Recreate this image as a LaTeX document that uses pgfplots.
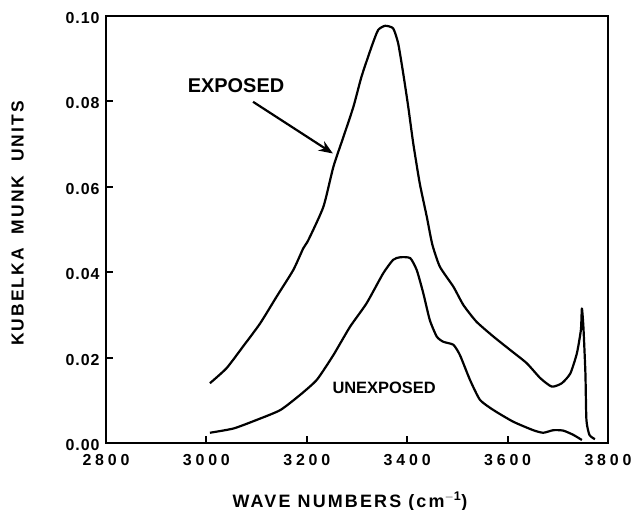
\documentclass[border=0pt]{standalone}
\usepackage{fontspec}
\setmainfont{Liberation Sans}
\newfontfamily\tickxfont{Liberation Sans}[LetterSpace=24]
\newfontfamily\tickyfont{Liberation Sans}[LetterSpace=6]
\newfontfamily\labfont{Liberation Sans}[LetterSpace=12]
\usepackage{pgfplots}
\pgfplotsset{compat=1.18}
\usetikzlibrary{arrows.meta}
\begin{document}
\begin{tikzpicture}
\useasboundingbox (0,0) rectangle (633bp,510bp);
\begin{axis}[
  at={(106bp,67bp)}, anchor=south west,
  scale only axis, width=502bp, height=427bp,
  xmin=2800, xmax=3800, ymin=0, ymax=0.10,
  xtick={2800,3000,...,3800},
  ytick={0,0.02,...,0.10},
  xtick pos=left, ytick pos=left,
  tick align=inside, major tick length=7bp,
  tick style={line width=2bp, black},
  axis line style={line width=2.2bp},
  minor tick num=0,
  clip=false,
  /pgf/number format/.cd, assume math mode=true, 1000 sep={},
  /pgfplots/.cd,
  scaled y ticks=false,
  yticklabel={\pgfmathprintnumber[fixed,fixed zerofill,precision=2]{\tick}},
  xticklabel style={font=\fontsize{16}{18}\selectfont\tickxfont\bfseries, yshift=-8bp},
  yticklabel style={font=\fontsize{16}{18}\selectfont\tickyfont\bfseries, xshift=-3bp, yshift=-2bp},
]
\addplot[black, line width=2.2bp, line join=round, smooth, tension=0.35] coordinates {
(3007,0.0140) (3040,0.0175) (3073,0.0226) (3107,0.0280) (3140,0.0343)
(3173,0.0405) (3193,0.0456) (3203,0.0475) (3233,0.0553) (3253,0.0647)
(3273,0.0717) (3293,0.0788) (3309,0.0858) (3329,0.0928) (3342,0.0967)
(3356,0.0977) (3372,0.0971) (3382,0.0936) (3392,0.0866) (3402,0.0788)
(3412,0.0702) (3425,0.0608) (3439,0.0530) (3450,0.0465) (3465,0.0413)
(3492,0.0366) (3512,0.0323) (3538,0.0284) (3572,0.0249) (3605,0.0218)
(3638,0.0187) (3665,0.0152) (3688,0.0132) (3708,0.0140) (3725,0.0163)
(3738,0.0210) (3746,0.0265) (3748,0.0315) (3751,0.0272) (3755,0.0163)
(3757,0.0054) (3763,0.0019) (3774,0.0009)
};
\addplot[black, line width=2.2bp, line join=round, smooth, tension=0.35] coordinates {
(3007,0.0024) (3054,0.0034) (3100,0.0054) (3147,0.0077) (3186,0.0112)
(3220,0.0148) (3253,0.0206) (3286,0.0272) (3319,0.0327) (3352,0.0397)
(3372,0.0429) (3386,0.0435) (3406,0.0433) (3419,0.0405) (3432,0.0351)
(3445,0.0288) (3459,0.0249) (3472,0.0237) (3492,0.0230) (3505,0.0206)
(3525,0.0148) (3545,0.0101) (3572,0.0077) (3611,0.0050) (3651,0.0030)
(3671,0.0024) (3691,0.0030) (3711,0.0029) (3731,0.0019) (3748,0.0007)
};
\draw[line width=2.2bp, -{Stealth[length=14bp,width=11bp]}] (axis cs:3093,0.0799) -- (axis cs:3252,0.0678);
\node[font=\fontsize{20}{22}\selectfont\bfseries] at (axis cs:3059,0.0837) {EXPOSED};
\node[font=\fontsize{16.5}{18}\selectfont\bfseries] at (axis cs:3354,0.0129) {UNEXPOSED};
\node[font=\fontsize{18}{20}\selectfont\labfont\bfseries, anchor=base] at ([yshift=-64bp]rel axis cs:0.486,0) {WAVE NUMBERS (cm$^{\mathbf{-1}}$)};
\node[font=\fontsize{17.5}{19}\selectfont\labfont\bfseries, rotate=90, anchor=center] at ([xshift=-88.5bp]rel axis cs:0,0.514) {KUBELKA\ \ MUNK\ \ UNITS};
\end{axis}
\end{tikzpicture}
\end{document}
